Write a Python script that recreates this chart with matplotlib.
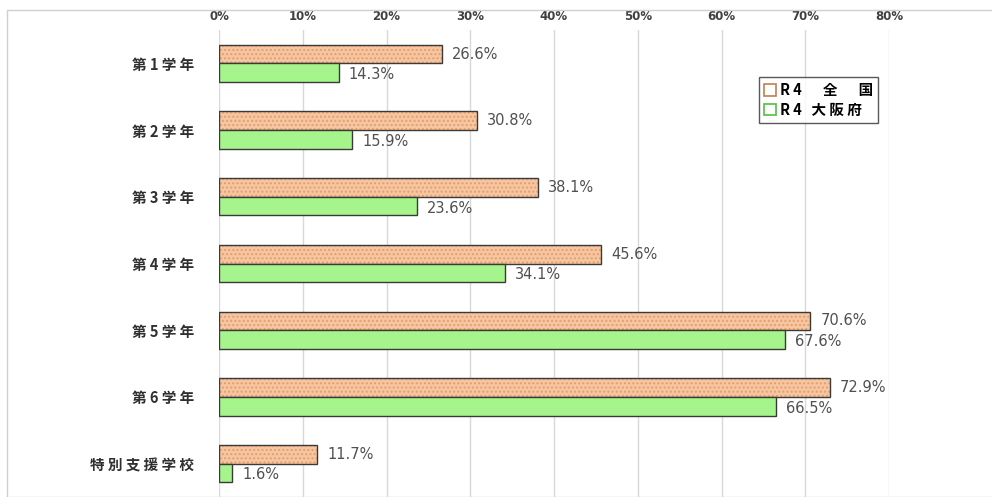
import matplotlib
matplotlib.use('Agg')
import matplotlib.pyplot as plt
from matplotlib.patches import Patch, Rectangle
import numpy as np

plt.rcParams['font.family'] = ['Noto Sans CJK JP', 'DejaVu Sans']

categories = ['第1学年', '第2学年', '第3学年', '第4学年', '第5学年', '第6学年', '特別支援学校']
zenkoku = [26.6, 30.8, 38.1, 45.6, 70.6, 72.9, 11.7]
osaka = [14.3, 15.9, 23.6, 34.1, 67.6, 66.5, 1.6]
series_labels = ['R4\u3000全\u3000国', 'R4 大阪府']
xticks = [0, 10, 20, 30, 40, 50, 60, 70, 80]

ORANGE = '#F7C6A0'
HATCH = '#E0A070'
GREEN = '#A6F58C'
EDGE = '#3A3A3A'


def spaced(s, sep=' '):
    # the original uses wide letter spacing
    return sep.join(s)


fig = plt.figure(figsize=(9.92, 4.97), dpi=100)
ax = fig.add_axes([219 / 992, 0.0, (889 - 219) / 992, 1 - 30 / 497])

# outer chart frame
fig.add_artist(Rectangle((7 / 992, 0.0), 1.0, 1 - 10 / 497, transform=fig.transFigure,
                         fill=False, edgecolor='#D0D0D0', linewidth=1.0))

y = np.arange(len(categories))
h = 0.28

# orange bars with dotted pattern
ax.barh(y - h / 2, zenkoku, height=h, color=ORANGE, hatch='....',
        edgecolor=HATCH, linewidth=0, zorder=2)
ax.barh(y - h / 2, zenkoku, height=h, fill=False, edgecolor=EDGE, linewidth=1.0, zorder=3)
ax.barh(y + h / 2, osaka, height=h, color=GREEN, edgecolor=EDGE, linewidth=1.0, zorder=3)

for i in range(len(categories)):
    ax.text(zenkoku[i] + 1.2, y[i] - h / 2, f'{zenkoku[i]:.1f}%', va='center', ha='left',
            fontsize=10.5, color='#505050', family='DejaVu Sans')
    ax.text(osaka[i] + 1.2, y[i] + h / 2 + 0.03, f'{osaka[i]:.1f}%', va='center', ha='left',
            fontsize=10.5, color='#505050', family='DejaVu Sans')

ax.set_xlim(0, 80)
ax.set_ylim(len(categories) - 0.5, -0.5)
ax.set_xticks(xticks)
ax.set_xticklabels([f'{t}%' for t in xticks], fontsize=8.5, fontweight='bold', color='#404040',
                   family='DejaVu Sans')
ax.xaxis.tick_top()
ax.tick_params(axis='x', length=0, pad=5)
ax.set_yticks(y)
ax.set_yticklabels([spaced(c) for c in categories], fontsize=10.5, fontweight='bold',
                   color='#303030')
ax.tick_params(axis='y', length=0, pad=18)
ax.grid(axis='x', color='#D8D8D8', linewidth=1.0, zorder=0)
ax.set_axisbelow(True)
for s in ax.spines.values():
    s.set_visible(False)

handles = [Patch(facecolor='white', edgecolor='#C08050', linewidth=1.2),
           Patch(facecolor='white', edgecolor='#50C040', linewidth=1.2)]
leg = ax.legend(handles, [spaced(s) for s in series_labels], loc='upper left',
                bbox_to_anchor=(0.795, 0.915),
                frameon=True, fancybox=False, handlelength=0.8, handleheight=0.8,
                handletextpad=0.3, borderpad=0.35, labelspacing=0.25,
                prop={'weight': 'bold', 'size': 10.5})
leg.get_frame().set_edgecolor('#303030')
leg.get_frame().set_linewidth(1.0)

fig.savefig('out.png', dpi=100)
